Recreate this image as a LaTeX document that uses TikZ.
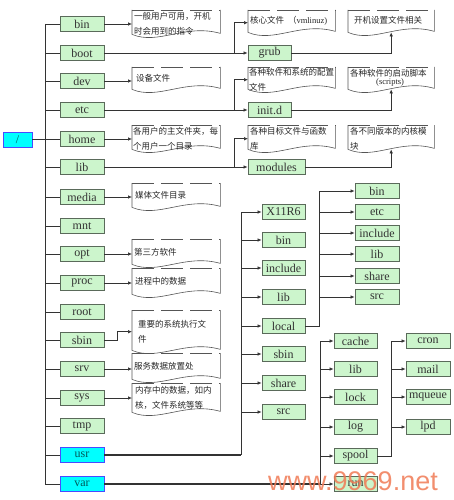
\documentclass[tikz,border=0pt]{standalone}
\usepackage{fontspec}
\setmainfont{Liberation Serif}
\newfontfamily\cjk{Noto Sans CJK SC}
\newfontfamily\wmfont{Liberation Sans}
\usetikzlibrary{arrows.meta,calc}
\definecolor{gfill}{HTML}{CCF5CC}
\definecolor{gdraw}{HTML}{5A6A5A}
\definecolor{cfill}{HTML}{00FFFF}
\definecolor{cdraw}{HTML}{4A4AFF}
\definecolor{ctext}{HTML}{005A5A}
\definecolor{ln}{HTML}{333333}
\definecolor{memoc}{HTML}{555555}
\definecolor{wm}{HTML}{F07A55}
\begin{document}
\begin{tikzpicture}[x=1pt,y=-1pt,
 gbox/.style={draw=gdraw, fill=gfill, line width=0.8pt, minimum height=15, inner sep=0pt, text=black!80, font=\fontsize{12}{12}\selectfont},
 cbox/.style={draw=cdraw, fill=cfill, line width=0.8pt, minimum height=15, inner sep=0pt, text=ctext, font=\fontsize{12}{12}\selectfont},
 memo/.style={anchor=north west, inner sep=0pt, draw=none},
 memotext/.style={anchor=west, align=left, inner sep=0pt, font=\cjk\fontsize{8.5}{15}\selectfont, text=black!85},
 conn/.style={draw=ln, line width=0.7pt},
 arr/.style={conn, -{Latex[length=4pt,width=3.6pt]}},
 trunkline/.style={draw=ln, line width=1.3pt},
 memoline/.style={draw=memoc, line width=0.6pt},
 memotop/.style={memoline, dash pattern=on 22pt off 7pt},
]
\useasboundingbox (0,0) rectangle (453,500);

% branch coordinates
\coordinate (tk) at (45,0);
\coordinate (bx) at (234,0);
\coordinate (ux) at (241,0);
\coordinate (lx) at (319,0);
\coordinate (vx) at (320,0);
\coordinate (sx) at (391,0);

% root and first level
\node[cbox, minimum width=29] (slash) at (17.5,139.5) {/};
\node[gbox, minimum width=44] (bin) at (82,24) {bin};
\node[gbox, minimum width=44] (boot) at (82,53) {boot};
\node[gbox, minimum width=44] (dev) at (82,81) {dev};
\node[gbox, minimum width=44] (etc) at (82,110) {etc};
\node[gbox, minimum width=44] (home) at (82,139) {home};
\node[gbox, minimum width=44] (lib) at (82,167) {lib};
\node[gbox, minimum width=44] (media) at (82,197) {media};
\node[gbox, minimum width=44] (mnt) at (82,226) {mnt};
\node[gbox, minimum width=44] (opt) at (82,254) {opt};
\node[gbox, minimum width=44] (proc) at (82,283) {proc};
\node[gbox, minimum width=44] (rootdir) at (82,312) {root};
\node[gbox, minimum width=44] (sbin) at (82,340) {sbin};
\node[gbox, minimum width=44] (srv) at (82,369) {srv};
\node[gbox, minimum width=44] (sys) at (82,398) {sys};
\node[gbox, minimum width=44] (tmp) at (82,426) {tmp};
\node[cbox, minimum width=44] (usr) at (82,455) {usr};
\node[cbox, minimum width=44] (var) at (82,484) {var};

% upper right
\node[gbox, minimum width=43] (grub) at (269.5,53) {grub};
\node[gbox, minimum width=43] (initd) at (269.5,110) {init.d};
\node[gbox, minimum width=57] (modules) at (276.5,167) {modules};

% usr children
\node[gbox, minimum width=43] (x11) at (283.5,212) {X11R6};
\node[gbox, minimum width=43] (ubin) at (283.5,240) {bin};
\node[gbox, minimum width=43] (uinc) at (283.5,268) {include};
\node[gbox, minimum width=43] (ulib) at (283.5,297) {lib};
\node[gbox, minimum width=43] (local) at (283.5,326) {local};
\node[gbox, minimum width=43] (usbin) at (283.5,354) {sbin};
\node[gbox, minimum width=43] (ushare) at (283.5,383) {share};
\node[gbox, minimum width=43] (usrc) at (283.5,412) {src};

% local children
\node[gbox, minimum width=44] (lbin) at (377,191) {bin};
\node[gbox, minimum width=44] (letc) at (377,212) {etc};
\node[gbox, minimum width=44] (linc) at (377,233) {include};
\node[gbox, minimum width=44] (llib) at (377,254) {lib};
\node[gbox, minimum width=44] (lshare) at (377,276) {share};
\node[gbox, minimum width=44] (lsrc) at (377,297) {src};

% var children
\node[gbox, minimum width=43] (cache) at (355.5,341) {cache};
\node[gbox, minimum width=43] (vlib) at (355.5,369) {lib};
\node[gbox, minimum width=43] (lock) at (355.5,397) {lock};
\node[gbox, minimum width=43] (log) at (355.5,427) {log};
\node[gbox, minimum width=43] (spool) at (355.5,456) {spool};
\node[gbox, minimum width=43] (run) at (355.5,484) {run};

% spool children
\node[gbox, minimum width=44] (cron) at (428,341) {cron};
\node[gbox, minimum width=44] (mail) at (428,369) {mail};
\node[gbox, minimum width=44] (mqueue) at (428,397) {mqueue};
\node[gbox, minimum width=44] (lpd) at (428,427) {lpd};

% memo shapes
\node[memo, minimum width=88, minimum height=27] (nbin) at (132,10) {};
\node[memo, minimum width=88, minimum height=25] (ndev) at (132,67) {};
\node[memo, minimum width=88, minimum height=27] (nhome) at (132,125) {};
\node[memo, minimum width=88, minimum height=27] (nmedia) at (132,183) {};
\node[memo, minimum width=88, minimum height=28] (nopt) at (132,239) {};
\node[memo, minimum width=88, minimum height=29] (nproc) at (132,268) {};
\node[memo, minimum width=88, minimum height=43] (nsbin) at (132,310) {};
\node[memo, minimum width=88, minimum height=29] (nsrv) at (132,353) {};
\node[memo, minimum width=88, minimum height=32] (nsys) at (132,383) {};
\node[memo, minimum width=87, minimum height=25] (nk1) at (248,10) {};
\node[memo, minimum width=86, minimum height=25] (nk2) at (348,10) {};
\node[memo, minimum width=87, minimum height=25] (nc1) at (248,67) {};
\node[memo, minimum width=86, minimum height=25] (nc2) at (348,67) {};
\node[memo, minimum width=87, minimum height=27] (nm1) at (248,125) {};
\node[memo, minimum width=86, minimum height=27] (nm2) at (348,125) {};

\foreach \q in {nbin,ndev,nhome,nmedia,nopt,nproc,nsbin,nsrv,nsys,nk1,nk2,nc1,nc2,nm1,nm2}{
  \draw[memotop] (\q.north west) -- (\q.north east);
  \draw[memoline] let \p1=(\q.south west), \p2=(\q.north east) in
    (\x1,\y2) -- (\x1,\y1+3pt)
    .. controls (\x1+0.3*\x2-0.3*\x1,\y1-8pt) and (\x1+0.6*\x2-0.6*\x1,\y1+14pt) ..
    (\x2,\y1+4pt) -- (\x2,\y2);
}

% memo texts
\node[memotext] (tbin) at ([shift={(2,0)}]nbin.west) {一般用户可用，开机\\时会用到的指令};
\node[memotext] (tdev) at ([shift={(4,-1)}]ndev.west) {设备文件};
\node[memotext] (thome) at ([shift={(1,0)}]nhome.west) {各用户的主文件夹，每\\个用户一个目录};
\node[memotext] (tmedia) at ([shift={(3,-1)}]nmedia.west) {媒体文件目录};
\node[memotext] (topt) at ([shift={(2,-1)}]nopt.west) {第三方软件};
\node[memotext] (tproc) at ([shift={(3,-1)}]nproc.west) {进程中的数据};
\node[memotext] (tsbin) at ([shift={(6,0)}]nsbin.west) {重要的系统执行文\\件};
\node[memotext] (tsrv) at ([shift={(2,-1)}]nsrv.west) {服务数据放置处};
\node[memotext] (tsys) at ([shift={(3,-1)}]nsys.west) {内存中的数据，如内\\核，文件系统等等};
\node[memotext] (tk1) at ([shift={(2,-2)}]nk1.west) {核心文件\ \ （{\rmfamily vmlinuz)}};
\node[memotext] (tk2) at ([shift={(6,-2)}]nk2.west) {开机设置文件相关};
\node[memotext] (tc1) at ([shift={(1,0)}]nc1.west) {各种软件和系统的配置\\文件};
\node[memotext, font=\cjk\fontsize{8.5}{8}\selectfont] (tc2) at ([shift={(2,-2)}]nc2.west) {各种软件的启动脚本\\\hspace*{26pt}{\rmfamily (scripts)}};
\node[memotext] (tm1) at ([shift={(2,0)}]nm1.west) {各种目标文件与函数\\库};
\node[memotext] (tm2) at ([shift={(2,0)}]nm2.west) {各不同版本的内核模\\块};

% trunk
\draw[trunkline] (slash.east) -- (slash.east -| tk);
\draw[conn, line width=1pt] (bin.west -| tk) -- (var.west -| tk);
\foreach \n in {bin,boot,dev,etc,home,lib,media,mnt,opt,proc,rootdir,sbin,srv,sys,tmp,usr,var}
  \draw[conn] (\n.west -| tk) -- (\n.west);

% left memos
\foreach \a/\b in {bin/nbin,dev/ndev,home/nhome,media/nmedia,opt/nopt,proc/nproc,srv/nsrv,sys/nsys}
  \draw[arr] (\a.east) -- (\a.east -| \b.west);
\draw[arr] (sbin.east) -- ++(13,0) |- (nsbin.west);

% boot / etc / lib
\draw[arr] (boot.east) -- (grub.west);
\draw[arr] (boot.east -| bx) |- (nk1.west);
\draw[arr] (grub.east) -| ([yshift=3pt]nk2.south);
\draw[arr] (etc.east) -- (initd.west);
\draw[arr] (etc.east -| bx) |- (nc1.west);
\draw[arr] (initd.east) -| ([yshift=3pt]nc2.south);
\draw[arr] (lib.east) -- (modules.west);
\draw[arr] (lib.east -| bx) |- (nm1.west);
\draw[arr] (modules.east) -| ([yshift=3pt]nm2.south);

% usr
\draw[trunkline] (usr.east) -- (usr.east -| ux);
\draw[conn] (x11.west -| ux) -- (usr.east -| ux);
\foreach \n in {x11,ubin,uinc,ulib,local,usbin,ushare,usrc}
  \draw[arr] (\n.west -| ux) -- (\n.west);
\draw[conn, line width=1pt] (local.east) -- (local.east -| lx) -- (lbin.west -| lx);
\foreach \n in {lbin,letc,linc,llib,lshare,lsrc}
  \draw[arr] (\n.west -| lx) -- (\n.west);

% var
\draw[trunkline] (var.east) -- (var.east -| vx);
\draw[conn] (cache.west -| vx) -- (run.west -| vx);
\foreach \n in {cache,vlib,lock,log,spool,run}
  \draw[arr] (\n.west -| vx) -- (\n.west);
\draw[conn, line width=1pt] (spool.east) -- (spool.east -| sx) -- (cron.west -| sx);
\foreach \n in {cron,mail,mqueue,lpd}
  \draw[arr] (\n.west -| sx) -- (\n.west);

% watermark
\node[anchor=base west, inner sep=0pt, text=wm, opacity=0.85, font=\wmfont\fontsize{27}{27}\selectfont] (wmark) at (268,490) {www.9969.net};
\end{tikzpicture}
\end{document}
